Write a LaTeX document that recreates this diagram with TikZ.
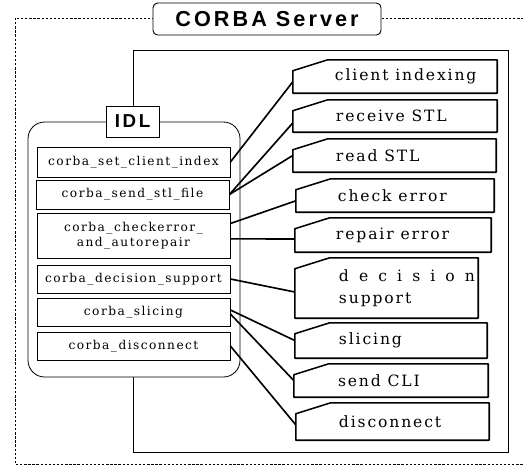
\documentclass[tikz,border=0pt]{standalone}
\usepackage{fontspec}
\newfontfamily\callfont[LetterSpace=12]{DejaVu Serif}
\newfontfamily\headfont[LetterSpace=14]{Liberation Sans}
\usetikzlibrary{positioning, calc}

\tikzset{
  servertitle/.style={draw, line width=0.8pt, rounded corners=4pt, fill=white, inner sep=0pt,
    minimum width=6.84cm, minimum height=0.96cm, font=\headfont\bfseries\fontsize{18.5}{20}\selectfont},
  idltag/.style={draw, line width=0.7pt, fill=white, inner sep=0pt,
    minimum width=1.59cm, minimum height=0.93cm, font=\headfont\bfseries\fontsize{16}{17}\selectfont},
  callbox/.style={draw, line width=0.7pt, fill=white, inner sep=0pt, minimum width=5.79cm,
    align=center, font=\callfont\fontsize{10.4}{13}\selectfont},
  taskbox/.style={inner sep=0pt},
  taskline/.style={line width=1.3pt, line join=round},
  tasktext/.style={inner sep=0pt, align=left, font=\callfont\fontsize{13.3}{19}\selectfont},
  link/.style={line width=1.4pt},
}

\begin{document}
\begin{tikzpicture}[x=0.03cm, y=-0.03cm]
    \useasboundingbox (0,0) rectangle (523,466);

    % Khung ngoài và tiêu đề
    \draw[line width=0.6pt, dash pattern=on 2pt off 1.5pt] (15,18) rectangle (545,464);
    \node[servertitle] (srv) at (267,19) {CORBA Server};
    \draw[line width=0.7pt] (133,50) rectangle (508,452);

    % Khối IDL
    \node[draw, line width=0.7pt, rounded corners=0.5cm, fill=white,
          minimum width=6.36cm, minimum height=7.65cm] (idlpanel) at (134,249.5) {};
    \node[idltag] (idl) at (132.5,121.5) {IDL};

    \node[callbox, minimum height=0.90cm] (f1) at (133.5,162) {corba\_set\_client\_index};
    \node[callbox, minimum height=0.87cm] (f2) at (132.5,194.5) {corba\_send\_stl\_file};
    \node[callbox, minimum height=1.35cm] (f3) at (133.5,235.5) {corba\_checkerror\_\\and\_autorepair};
    \node[callbox, minimum height=0.84cm] (f4) at (133.5,279) {corba\_decision\_support};
    \node[callbox, minimum height=0.84cm] (f5) at (133.5,312) {corba\_slicing};
    \node[callbox, minimum height=0.84cm] (f6) at (133.5,346) {corba\_disconnect};

    % Các chức năng phía server
    \node[taskbox, minimum width=6.12cm, minimum height=0.99cm] (ci) at (395,76.5) {};
    \node[taskbox, minimum width=6.12cm, minimum height=0.96cm] (rs) at (395,116) {};
    \node[taskbox, minimum width=6.09cm, minimum height=0.99cm] (rd) at (394.5,155.5) {};
    \node[taskbox, minimum width=5.94cm, minimum height=0.99cm] (ce) at (395,195.5) {};
    \node[taskbox, minimum width=5.88cm, minimum height=1.02cm] (re) at (393,235) {};
    \node[taskbox, minimum width=5.49cm, minimum height=1.80cm] (ds) at (386.5,288) {};
    \node[taskbox, minimum width=5.76cm, minimum height=1.05cm] (sl) at (391,340.5) {};
    \node[taskbox, minimum width=5.82cm, minimum height=0.99cm] (sc) at (391,380.5) {};
    \node[taskbox, minimum width=5.79cm, minimum height=1.11cm] (dc) at (392.5,421.5) {};

    \foreach \t in {ci,rs,rd,ce,re,ds,sl,sc,dc}
        \draw[taskline] (\t.south west) -- ($(\t.north west)+(0,11)$) -- ($(\t.north west)+(35,0)$)
            -- (\t.north east) -- (\t.south east) -- cycle;

    \node[tasktext, right=1.26cm of ci.west] (ci-t) {client indexing};
    \node[tasktext, right=1.29cm of rs.west] (rs-t) {receive STL};
    \node[tasktext, right=1.29cm of rd.west] (rd-t) {read STL};
    \node[tasktext, right=1.26cm of ce.west] (ce-t) {check error};
    \node[tasktext, right=1.23cm of re.west] (re-t) {repair error};
    \node[tasktext, right=1.32cm of ds.west] (ds-t) {\makebox[4.08cm][s]{d e c i s i o n}\\support};
    \node[tasktext, right=1.32cm of sl.west] (sl-t) {slicing};
    \node[tasktext, right=1.32cm of sc.west] (sc-t) {send CLI};
    \node[tasktext, right=1.29cm of dc.west] (dc-t) {disconnect};

    % Đường nối
    \draw[link] (f1.east) -- ([yshift=-0.16cm]ci.west);
    \draw[link] (f2.east) -- ([yshift=-0.21cm]rs.west);
    \draw[link] (f2.east) -- (rd.west);
    \draw[link] ([yshift=0.36cm]f3.east) -- ([yshift=-0.16cm]ce.west);
    \draw[link] ([yshift=-0.1cm]f3.east) -- ([yshift=-0.12cm]re.west);
    \draw[link] (f4.east) -- ([yshift=-0.12cm]ds.west);
    \draw[link] ([yshift=0.06cm]f5.east) -- (sl.west);
    \draw[link] ([yshift=-0.06cm]f5.east) -- (sc.west);
    \draw[link] (f6.east) -- ([yshift=-0.1cm]dc.west);
\end{tikzpicture}
\end{document}
